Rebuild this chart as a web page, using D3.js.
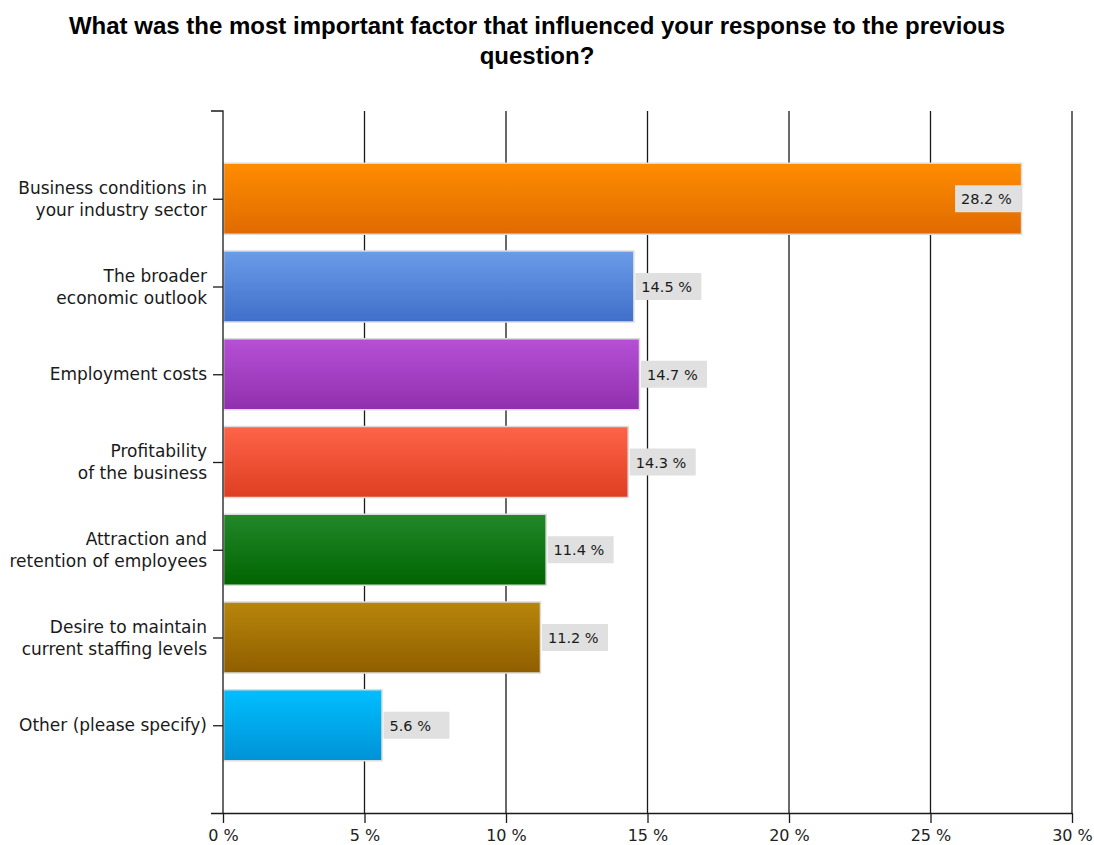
<!DOCTYPE html>
<html>
<head>
<meta charset="utf-8">
<script src="https://cdn.jsdelivr.net/npm/d3@7/dist/d3.min.js"></script>
<style>
  html, body { margin: 0; padding: 0; background: #fff; }
  svg { display: block; }
</style>
</head>
<body>
<svg id="chart" width="1094" height="845"></svg>
<script>
// Survey answers: most important factor behind the previous response
const categories = [
  ["Business conditions in", "your industry sector"],
  ["The broader", "economic outlook"],
  ["Employment costs"],
  ["Profitability", "of the business"],
  ["Attraction and", "retention of employees"],
  ["Desire to maintain", "current staffing levels"],
  ["Other (please specify)"]
];
const values = [28.2, 14.5, 14.7, 14.3, 11.4, 11.2, 5.6];
const barTop = ["#ff8c00", "#6a9ce9", "#b650d6", "#ff6448", "#22882a", "#b8860b", "#00bfff"];
const barBottom = ["#e06a00", "#3f6fc9", "#9030ae", "#de3e22", "#006400", "#8f5e00", "#0092d6"];
const xTicks = [0, 5, 10, 15, 20, 25, 30];
const title = ["What was the most important factor that influenced your response to the previous", "question?"];

const svg = d3.select("#chart");
const plotL = 223, plotR = 1072, plotT = 111, plotB = 813;

const x = d3.scaleLinear().domain([0, 30]).range([plotL, plotR]);
const y = d3.scalePoint().domain(d3.range(categories.length)).range([plotT, plotB]).padding(1);
const barH = 71;

// vertical gradients for the bars
const defs = svg.append("defs");
values.forEach((v, i) => {
  const g = defs.append("linearGradient").attr("id", "g" + i)
    .attr("x1", 0).attr("y1", 0).attr("x2", 0).attr("y2", 1);
  g.append("stop").attr("offset", "0%").attr("stop-color", barTop[i]);
  g.append("stop").attr("offset", "100%").attr("stop-color", barBottom[i]);
});

// title
svg.append("text")
  .attr("text-anchor", "middle")
  .style("font-family", "'Liberation Sans', Arial, sans-serif")
  .style("font-weight", "bold")
  .style("font-size", "24px")
  .style("fill", "#000")
  .selectAll("tspan").data(title).join("tspan")
  .attr("x", 537).attr("y", (d, i) => 34 + i * 30)
  .text(d => d);

// vertical grid lines
svg.append("g").selectAll("line").data(xTicks.slice(1)).join("line")
  .attr("x1", d => x(d)).attr("x2", d => x(d))
  .attr("y1", plotT).attr("y2", plotB)
  .attr("stroke", "#1a1a1a").attr("stroke-width", 1.3);

// bars
svg.append("g").selectAll("rect").data(values).join("rect")
  .attr("x", x(0) + 0.5)
  .attr("y", (d, i) => y(i) - barH / 2)
  .attr("width", d => x(d) - x(0))
  .attr("height", barH)
  .attr("fill", (d, i) => `url(#g${i})`)
  .attr("stroke", "#dcdcdc").attr("stroke-width", 1.5);

// x axis
const xAxis = svg.append("g").attr("transform", `translate(0,${plotB})`)
  .call(d3.axisBottom(x).tickValues(xTicks).tickSize(10).tickSizeOuter(0).tickFormat(d => d + " %"));
xAxis.select(".domain").attr("d", `M${plotL - 12},0.5H${plotR}`).attr("stroke", "#1a1a1a").attr("stroke-width", 1.3);
xAxis.selectAll(".tick line").attr("stroke", "#1a1a1a").attr("stroke-width", 1.3);
xAxis.selectAll(".tick text")
  .attr("dy", "0.95em")
  .style("font-family", "'DejaVu Sans', Tahoma, sans-serif")
  .style("font-size", "16px").style("fill", "#222");

// y axis
const yAxis = svg.append("g").attr("transform", `translate(${plotL},0)`)
  .call(d3.axisLeft(y).tickSize(10).tickSizeOuter(0).tickFormat(""));
yAxis.select(".domain").attr("d", `M-12,${plotT}H0V${plotB}`).attr("fill", "none").attr("stroke", "#1a1a1a").attr("stroke-width", 1.3);
yAxis.selectAll(".tick line").attr("stroke", "#1a1a1a").attr("stroke-width", 1.3);

// category labels
const lab = svg.append("g").selectAll("text").data(categories).join("text")
  .attr("text-anchor", "end")
  .style("font-family", "'DejaVu Sans', Tahoma, sans-serif")
  .style("font-size", "17px").style("fill", "#1a1a1a");
lab.each(function (lines, i) {
  const n = lines.length;
  d3.select(this).selectAll("tspan").data(lines).join("tspan")
    .attr("x", 207)
    .attr("y", (d, j) => y(i) + 6 + (j - (n - 1) / 2) * 22)
    .text(d => d);
});

// value labels
const boxW = 66, boxH = 27;
const vl = svg.append("g").selectAll("g").data(values).join("g")
  .attr("transform", (d, i) => {
    let bx = x(d) + 2;
    if (bx + boxW > plotR) bx = x(d) - boxW;
    return `translate(${bx},${y(i) - boxH / 2})`;
  });
vl.append("rect").attr("width", boxW).attr("height", boxH).attr("fill", "#e0e0e0");
vl.append("text").attr("x", 6).attr("y", 19)
  .style("font-family", "'DejaVu Sans', Tahoma, sans-serif")
  .style("font-size", "14.5px").style("fill", "#1a1a1a")
  .text(d => d.toFixed(1) + " %");
</script>
</body>
</html>
